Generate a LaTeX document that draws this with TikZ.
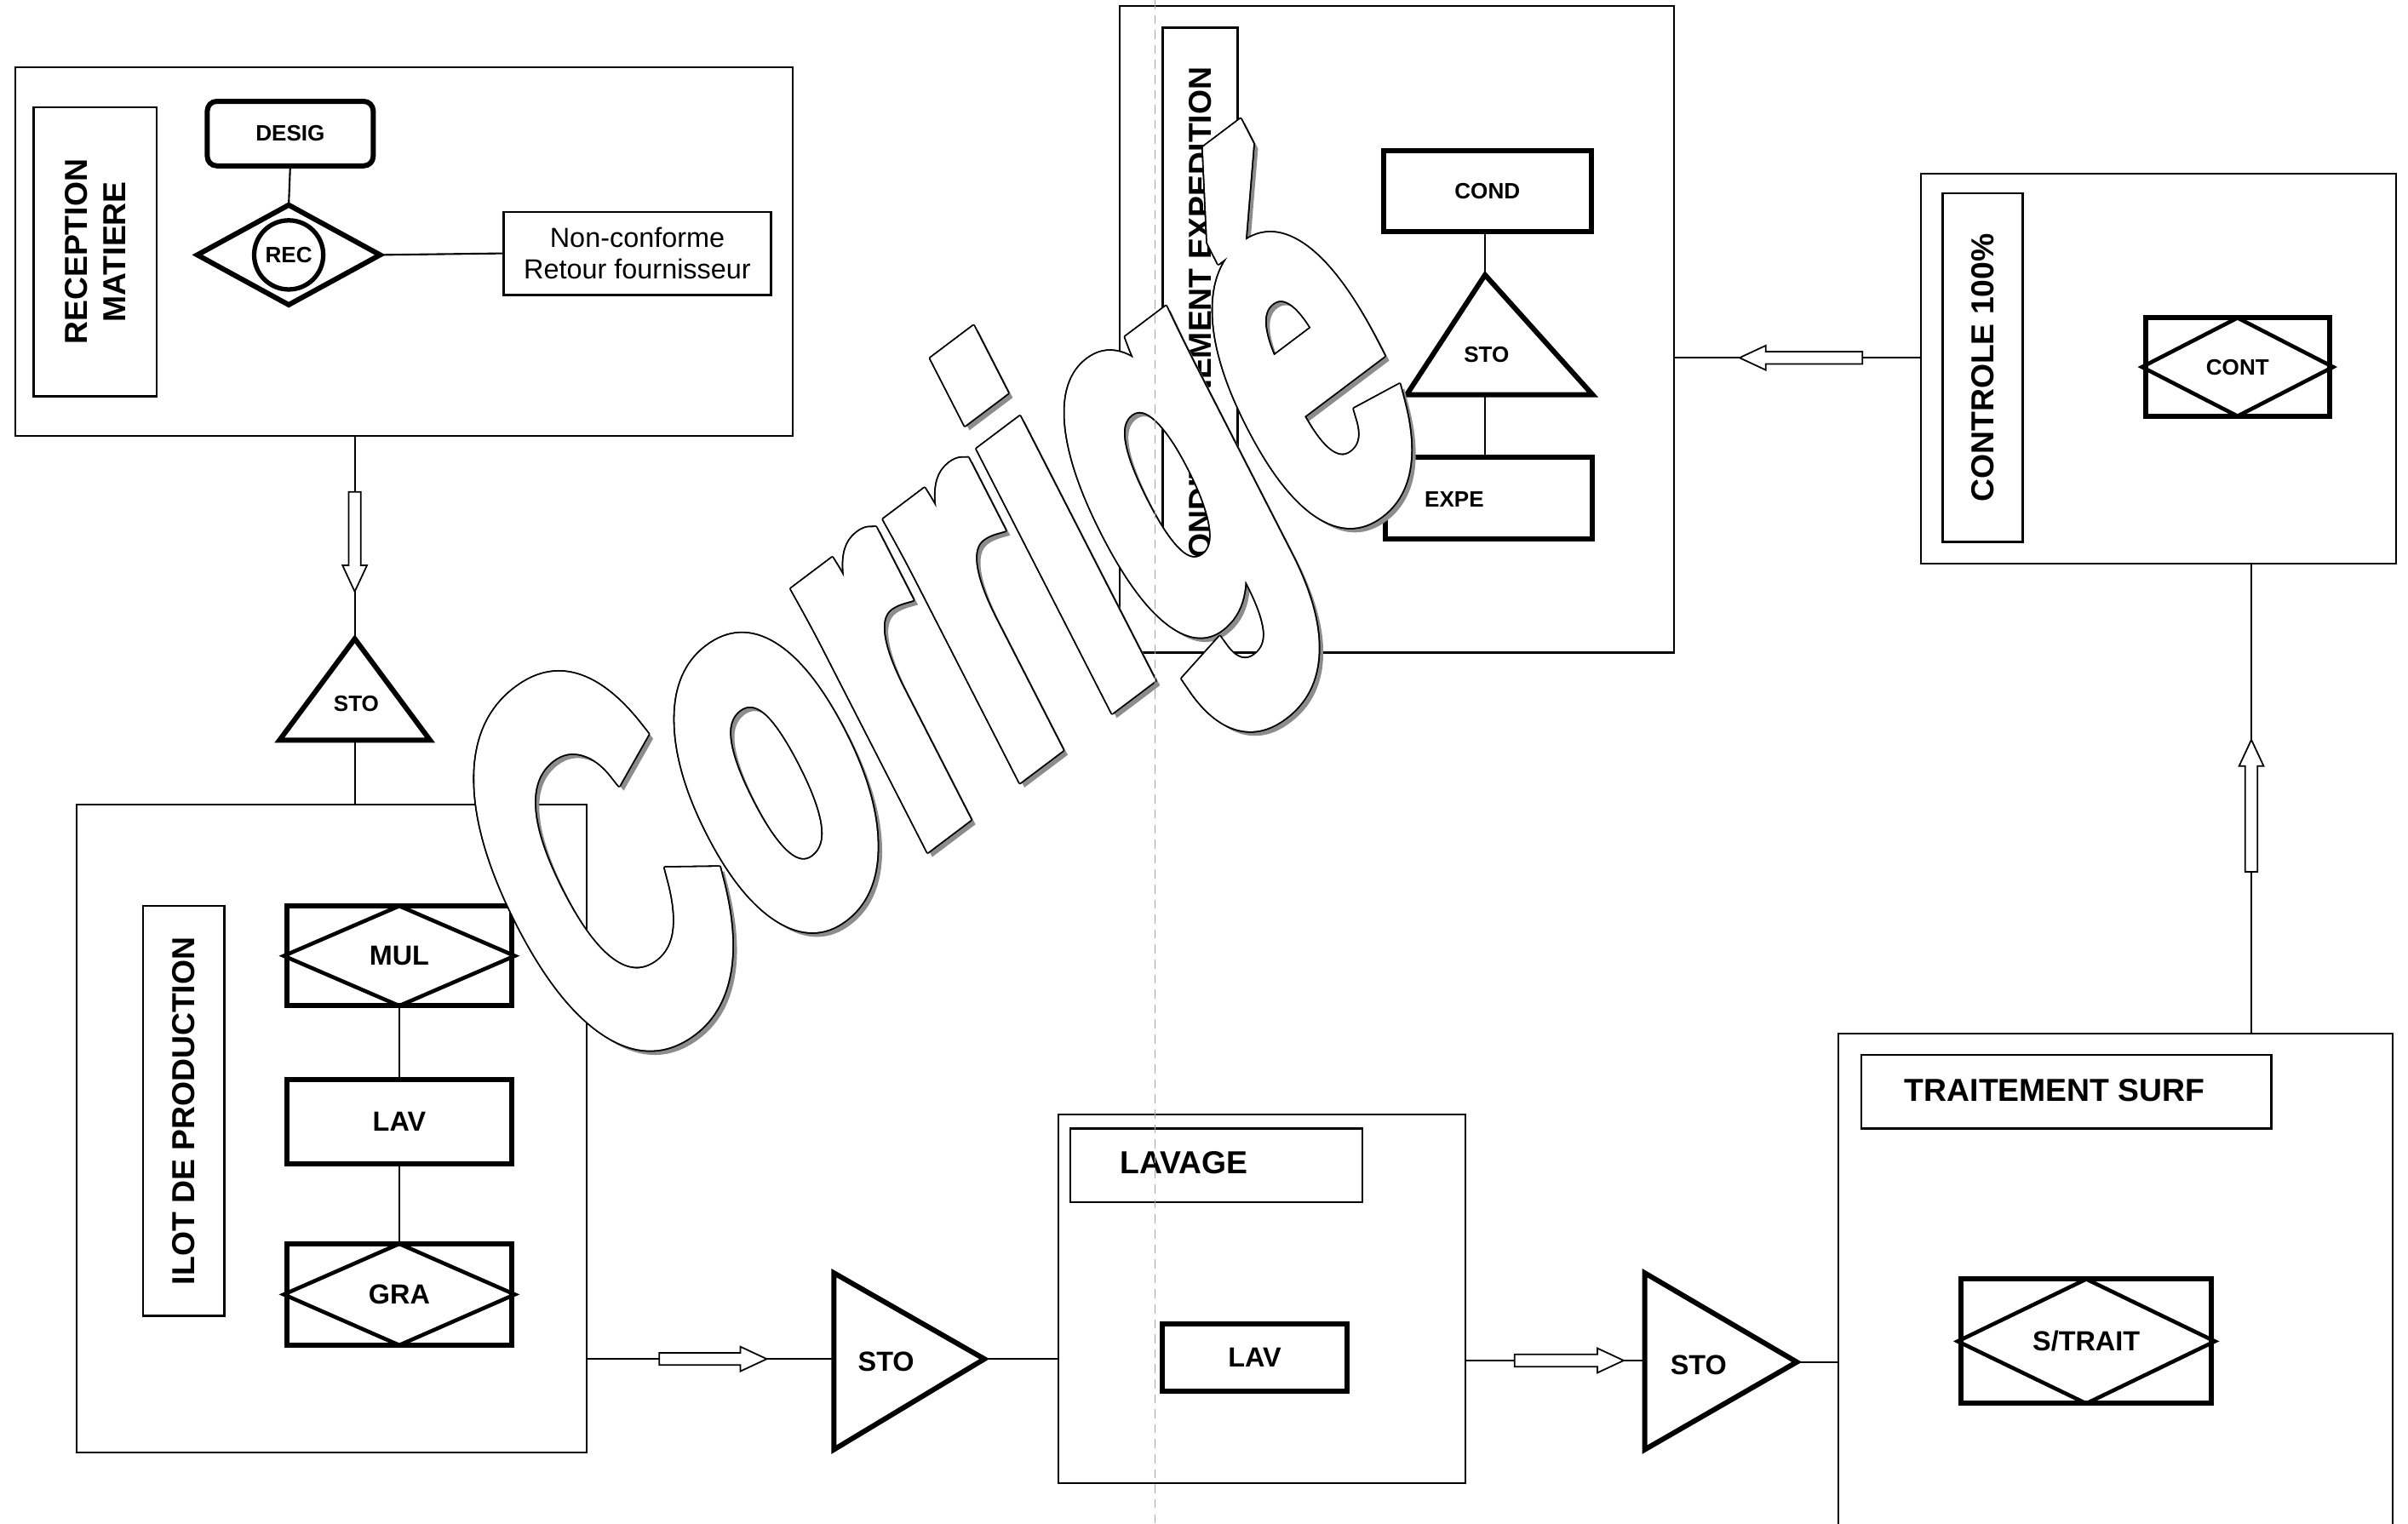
\documentclass[tikz,border=0pt]{standalone}
\usepackage{fontspec}
\setmainfont{Liberation Sans}
\newfontfamily\filigrane[FakeBold=4.5]{Liberation Sans Bold}
\usetikzlibrary{shapes.geometric,shapes.arrows}

\begin{document}
\begin{tikzpicture}[
    x=0.18mm, y=-0.18mm,
    cadre/.style={draw, line width=0.6pt, inner sep=0pt, outer sep=0pt},
    titre/.style={font=\bfseries\fontsize{10.6}{12.8}\selectfont, align=center},
    etiq/.style={draw, line width=0.7pt, inner sep=0pt, outer sep=0pt, titre},
    poste/.style={draw, line width=1.7pt, inner sep=0pt, outer sep=0pt, moyen},
    moyen/.style={font=\bfseries\fontsize{9.2}{11}\selectfont},
    petit/.style={font=\bfseries\fontsize{7.4}{9}\selectfont},
    stock/.style={line width=1.7pt, line join=miter},
    losange/.style={line width=1.3pt},
    lien/.style={line width=0.6pt},
    fleche/.style={single arrow, draw, fill=white, line width=0.5pt, inner sep=0.63mm,
        outer sep=0pt, single arrow head extend=0.72mm, single arrow tip angle=50},
    dim/.style 2 args={minimum width=#1*0.18mm, minimum height=#2*0.18mm},
    marque/.style={shift={(662,502)}, rotate=37, yscale=1.72, xslant=0.3, transform shape},
    pli/.style={black!35, densely dashed, line width=0.4pt},
]
    \useasboundingbox (0,0) rectangle (1568,992);
    \def\corr{\filigrane\fontsize{99}{99}\selectfont Corrigé}

    % reception matiere
    \node[cadre, dim={506}{240}] (recep) at (263,164) {};
    \node[etiq, dim={188}{80}, rotate=90] (lrecep) at (62,164) {RECEPTION\\MATIERE};
    \node[poste, petit, rounded corners=1.1mm, dim={108}{42}] (desig) at (189,87) {DESIG};
    \node[diamond, draw, line width=1.7pt, inner sep=0pt, outer sep=0pt, dim={119}{65}] (rec) at (188,166) {};
    \node[circle, draw, line width=1.5pt, inner sep=0pt, minimum size=45*0.18mm, petit] (reccercle) at (188,166) {REC};
    \node[draw, line width=0.7pt, dim={174}{54}, align=center, font=\fontsize{9.2}{10.7}\selectfont] (nc) at (415,165) {Non-conforme\\Retour fournisseur};
    \draw[lien] (desig.south) -- (rec.north);
    \draw[lien] (rec.east) -- (nc.west);

    \coordinate (s1a) at (231,416);
    \coordinate (s1b) at (231,482);
    \draw[stock] (s1a) -- (280,482) -- (182,482) -- cycle;
    \node[petit] (sto1) at (232,458) {STO};

    % ilot de production
    \node[cadre, dim={332}{422}] (ilot) at (216,735) {};
    \node[etiq, dim={267}{53}, rotate=90] (lilot) at (119.5,723.5) {ILOT DE PRODUCTION};
    \node[poste, dim={146}{65}] (mul) at (260,622.5) {MUL};
    \node[poste, dim={146}{55}] (lav) at (260,730.5) {LAV};
    \node[poste, dim={146}{66}] (gra) at (260,843) {GRA};
    \draw[lien] (mul) -- (lav) (lav) -- (gra);
    \draw[lien] (recep.south -| s1a) -- (s1a);
    \draw[lien] (s1b) -- (s1b |- ilot.north);

    \coordinate (s2g) at (543,885);
    \coordinate (s2a) at (641,885);
    \draw[stock] (543,829) -- (s2a) -- (543,944) -- cycle;
    \node[moyen] (sto2) at (577,887) {STO};

    % lavage
    \node[cadre, dim={265}{240}] (lavage) at (821.5,846) {};
    \node[etiq, dim={190}{48}] (llavage) at (792,759) {};
    \node[titre] (tlavage) at (771,757) {LAVAGE};
    \node[poste, dim={120}{44}] (lav2) at (817,884) {LAV};

    \coordinate (s3g) at (1071,886);
    \coordinate (s3a) at (1170,887);
    \draw[stock] (1071,829) -- (s3a) -- (1071,944) -- cycle;
    \node[moyen] (sto3) at (1106,889) {STO};

    % traitement de surface
    \node[cadre, dim={361}{337}] (trait) at (1377.5,841.5) {};
    \node[etiq, dim={267}{48}] (ltrait) at (1345.5,711) {};
    \node[titre] (ttrait) at (1338,710) {TRAITEMENT SURF};
    \node[poste, dim={163}{81}] (strait) at (1358.5,873.5) {S/TRAIT};

    % controle
    \node[cadre, dim={309}{254}] (controle) at (1405.5,240) {};
    \node[etiq, dim={227}{52}, rotate=90] (lcontrole) at (1291,239.5) {CONTROLE 100\%};
    \node[poste, petit, dim={120}{64}] (cont) at (1457,239) {CONT};

    % conditionnement expedition
    \node[cadre, dim={361}{421}] (condit) at (909.5,214.5) {};
    \node[etiq, dim={386}{49}, rotate=90] (lcondit) at (781.5,211) {CONDITIONNEMENT EXPEDITION};
    \node[poste, petit, dim={135}{53}] (cond) at (968.5,124.5) {COND};
    \coordinate (s4a) at (967,179);
    \coordinate (s4b) at (967,257);
    \draw[stock] (s4a) -- (1037,257) -- (916,257) -- cycle;
    \node[petit] (sto4) at (968,231) {STO};
    \node[poste, dim={135}{53}] (expe) at (969.5,324.5) {};
    \node[petit] (texpe) at (947,325) {EXPE};
    \draw[lien] (cond.south -| s4a) -- (s4a);
    \draw[lien] (s4b) -- (expe.north -| s4b);

    \foreach \n in {mul,gra,strait,cont}
        \draw[losange] ([xshift=-0.4mm]\n.west) -- (\n.north) -- ([xshift=0.4mm]\n.east) -- (\n.south) -- cycle;

    % flux
    \coordinate (montee) at (1466,529);
    \coordinate (retour) at (1177,233);
    \draw[lien] (ilot.east |- s2g) -- (s2g);
    \draw[lien] (s2a) -- (s2a -| lavage.west);
    \draw[lien] (lavage.east |- s3g) -- (s3g);
    \draw[lien] (s3a) -- (s3a -| trait.west);
    \draw[lien] (trait.north -| montee) -- (controle.south -| montee);
    \draw[lien] (controle.west |- retour) -- (condit.east |- retour);
    \foreach \nom/\x/\y/\lg/\ang in {f1/231/348.5/65/-90, f2/460/885/70/0,
        f3/1017.5/886/71/0, f4/1466/529/86/90, f5/1177/233/80/180}
        \node[fleche, minimum height=\lg*0.18mm, rotate=\ang] (\nom) at (\x,\y) {};

    % filigrane
    \begin{scope}[shift={(3,3)}, marque]
        \node[text=black!45, anchor=base] (ombre) at (0,0) {\corr};
    \end{scope}
    \foreach \a in {0,30,...,330}{
        \begin{scope}[shift={(\a:1)}, marque]
            \node[anchor=base] at (0,0) {\corr};
        \end{scope}
    }
    \begin{scope}[marque]
        \node[text=white, anchor=base] (corrige) at (0,0) {\corr};
    \end{scope}

    \draw[pli] (752,0) -- (752,992);
\end{tikzpicture}
\end{document}
